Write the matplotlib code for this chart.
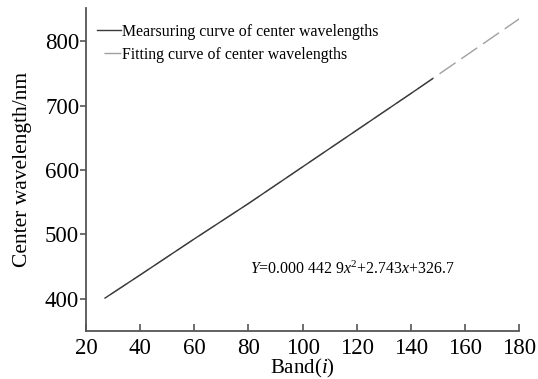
import matplotlib
matplotlib.use('Agg')
import matplotlib.pyplot as plt

plt.rcParams['font.family'] = 'Liberation Serif'
plt.rcParams['mathtext.fontset'] = 'custom'
plt.rcParams['mathtext.rm'] = 'Liberation Serif'
plt.rcParams['mathtext.it'] = 'Liberation Serif:italic'

# values
meas_band = [27, 40, 60, 80, 100, 120, 140, 148]
meas_wl = [401, 437, 493, 548, 605, 662, 719, 742]
fit_band = [27, 40, 60, 80, 100, 120, 140, 160, 180]
fit_wl = [401, 437, 493, 548, 605, 662, 719, 777, 835]

fig = plt.figure(figsize=(5.38, 3.79), dpi=100)
ax = fig.add_axes([0.160, 0.127, 0.805, 0.852])

ax.plot(fit_band, fit_wl, color='#a0a0a0', lw=1.0, linestyle=(14, (14, 5)),
        label='Fitting curve of center wavelengths')
ax.plot(meas_band, meas_wl, color='#3a3a3a', lw=1.0,
        label='Mearsuring curve of center wavelengths')

ax.set_xlim(20, 180)
ax.set_ylim(350, 852)
ax.set_xticks(range(20, 181, 20))
ax.set_yticks(range(400, 801, 100))

for s in ['top', 'right']:
    ax.spines[s].set_visible(False)
for s in ['left', 'bottom']:
    ax.spines[s].set_color('#555555')
    ax.spines[s].set_linewidth(1.3)
ax.tick_params(axis='x', direction='in', length=5, width=1.2, color='#555555',
               labelsize=16.5, pad=5)
ax.tick_params(axis='y', direction='out', length=4, width=1.2, color='#555555',
               labelsize=16.5, pad=1)

ax.set_xlabel('Band($i$)', fontsize=15, labelpad=-1)
ax.set_ylabel('Center wavelength/nm', fontsize=15.5, labelpad=9)

h, l = ax.get_legend_handles_labels()
ax.legend(h[::-1], l[::-1], loc='upper left', bbox_to_anchor=(0.0, 0.985),
          frameon=False, fontsize=11.4, handlelength=1.5, handletextpad=0.1,
          borderaxespad=0.3, labelspacing=0.45)

ax.text(80.5, 446, r'$Y$=0.000 442 9$x^2$+2.743$x$+326.7', fontsize=11.4,
        va='center', ha='left')

fig.savefig('out.png', dpi=100)
